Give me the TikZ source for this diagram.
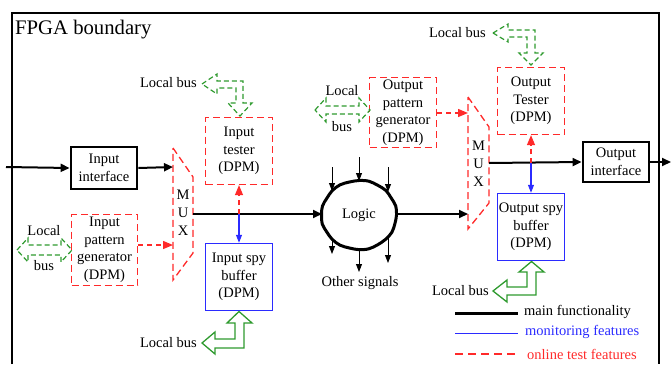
\documentclass[tikz,border=0pt]{standalone}
\usepackage{fontspec}
\setmainfont{Liberation Serif}
\usetikzlibrary{arrows.meta,shapes.geometric}
\definecolor{tred}{HTML}{FF2A2A}
\definecolor{tgreen}{HTML}{2E9A2E}
\definecolor{tblue}{HTML}{2B2BFF}
\begin{document}
\begin{tikzpicture}[x=1pt,y=-1pt,
  every node/.style={font=\fontsize{14.5}{17.5}\selectfont, inner sep=0pt, align=center},
  mainbox/.style={draw, line width=2.8pt, minimum width=66pt},
  testbox/.style={draw=tred, dash pattern=on 7pt off 4pt, line width=1.3pt, minimum width=67pt, minimum height=67pt},
  spybox/.style={draw=tblue, line width=1.4pt, minimum width=67pt, minimum height=67pt},
  muxshape/.style={draw=tred, dash pattern=on 7pt off 4pt, line width=1.3pt},
  mainline/.style={line width=2pt, -{Triangle[length=9pt,width=8pt]}},
  sigline/.style={line width=0.9pt, -{Triangle[length=8pt,width=6pt]}},
  testline/.style={tred, dash pattern=on 5pt off 4pt, line width=1.3pt, -{Triangle[length=10pt,width=8pt]}},
  spyline/.style={tblue, line width=1.1pt, -{Triangle[length=8pt,width=6pt]}},
  busdash/.style={draw=tgreen, dash pattern=on 5pt off 3pt, line width=1.2pt},
  bussolid/.style={draw=tgreen, line width=1.3pt}
]
\useasboundingbox (0,0) rectangle (671,364);

% FPGA boundary (open at the bottom)
\draw[line width=1.2pt] (12,364) -- (12,13) -- (659,13) -- (659,364);
\node[anchor=west, font=\fontsize{20.7}{24}\selectfont] (title) at (15,30) {FPGA boundary};

% Input side boxes
\node[mainbox, minimum height=42pt] (inif) at (104,168) {Input\\interface};
\node[testbox, minimum width=66pt, minimum height=71pt] (ipg) at (104.5,250) {Input\\pattern\\generator\\(DPM)};
\node[testbox] (itest) at (239,151) {Input\\tester\\(DPM)};
\node[spybox] (ispy) at (239,277) {Input spy\\buffer\\(DPM)};

% Output side boxes
\node[testbox, minimum height=70pt] (opg) at (403,112.5) {Output\\pattern\\generator\\(DPM)};
\node[testbox] (otest) at (531,101) {Output\\Tester\\(DPM)};
\node[spybox] (ospy) at (531,227) {Output spy\\buffer\\(DPM)};
\node[mainbox, minimum height=40pt] (outif) at (616,162) {Output\\interface};

% Multiplexers
\draw[muxshape] (173,148) -- (193,177) -- (193,253) -- (173,280) -- cycle;
\node[font=\fontsize{14.5}{18}\selectfont] (muxa) at (183,213) {M\\U\\X};
\draw[muxshape] (468,97) -- (489,127) -- (489,203) -- (468,229) -- cycle;
\node[font=\fontsize{14.5}{18}\selectfont] (muxb) at (478.5,164) {M\\U\\X};

\coordinate (muxaIn1) at (173,167);
\coordinate (muxaIn2) at (173,245);
\coordinate (muxaOut) at (193,214);
\coordinate (muxbIn1) at (468,113);
\coordinate (muxbIn2) at (468,214);
\coordinate (muxbOut) at (489,163);
\coordinate (ja) at (239,214);
\coordinate (jb) at (531,163);
\coordinate (pinIn) at (6,167);
\coordinate (pinOut) at (671,162);
\coordinate (logicW) at (322,214);
\coordinate (logicE) at (397,214);

% Logic cloud with a slightly irregular outline
\node (logic) at (359,215) {Logic};
\draw[line width=3pt, line join=round] plot[smooth cycle, tension=0.55] coordinates {
  (396.5,215) (395.75,205.95) (391.15,197.9) (385.75,190.35) (377.7,185.25) (368.85,181.2)
  (359,180.5) (349.4,182) (340.1,184.8) (332.35,190.5) (327,198) (322.45,206)
  (321.5,215) (322.25,224.05) (326.85,232.1) (332.35,239.5) (340.1,245.2) (349.4,248)
  (359,249.65) (368.85,248.8) (377.7,244.75) (385.5,239.4) (391.8,232.4) (394.85,223.85)};
\node (other) at (360,283) {Other signals};

% Signals entering and leaving the logic
\coordinate (la1) at (332,167); \coordinate (la1e) at (332,191);
\coordinate (la2) at (359,157); \coordinate (la2e) at (359,181);
\coordinate (la3) at (388,167); \coordinate (la3e) at (388,192);
\coordinate (lb1) at (332,240); \coordinate (lb1e) at (332,254);
\coordinate (lb2) at (359,250); \coordinate (lb2e) at (359,272);
\coordinate (lb3) at (388,238); \coordinate (lb3e) at (388,263);
\foreach \a in {la1,la2,la3,lb1,lb2,lb3}
  \draw[sigline] (\a) -- (\a e);

% Main data path
\draw[mainline] (pinIn) -- (inif.west);
\draw[mainline] (inif.east) -- (muxaIn1);
\draw[mainline] (muxaOut) -- (logicW);
\draw[mainline] (logicE) -- (muxbIn2);
\draw[mainline] (muxbOut) -- (outif.west);
\draw[mainline] (outif.east) -- (pinOut);

% Test pattern injection
\draw[testline] (ipg.east |- muxaIn2) -- (muxaIn2);
\draw[testline] (opg.east |- muxbIn1) -- (muxbIn1);

% Tester and spy taps
\draw[testline] (ja) -- (itest.south);
\draw[spyline] (ja) -- (ispy.north);
\draw[testline] (jb) -- (otest.south);
\draw[spyline] (jb) -- (ospy.north);

% Local bus arrows
\draw[busdash] (17,250) -- (28,238) -- (28,245) -- (61,245) -- (61,238) -- (72,250)
  -- (61,262) -- (61,255) -- (28,255) -- (28,262) -- cycle;
\node (lbA1) at (44,231) {Local};
\node (lbA2) at (44,266) {bus};

\draw[busdash] (315,110) -- (326,98) -- (326,106) -- (359,106) -- (359,98) -- (370,110)
  -- (359,122) -- (359,114) -- (326,114) -- (326,122) -- cycle;
\node (lbB1) at (342,91) {Local};
\node (lbB2) at (342,127) {bus};

\draw[busdash] (202,84) -- (217,74) -- (217,81) -- (243,81) -- (243,103) -- (252,103)
  -- (240,116) -- (228,103) -- (236,103) -- (236,88) -- (217,88) -- (217,94) -- cycle;
\node[anchor=east] (lbC) at (197,83) {Local bus};

\draw[busdash] (493,33) -- (508,24) -- (508,30) -- (535,30) -- (535,53) -- (543,53)
  -- (531,65) -- (519,53) -- (527,53) -- (527,37) -- (508,37) -- (508,42) -- cycle;
\node[anchor=east] (lbD) at (486,33) {Local bus};

\draw[bussolid] (239,311.5) -- (252,323) -- (244,323) -- (244,348) -- (215,348) -- (215,354)
  -- (202,343) -- (215,332) -- (215,339) -- (235,339) -- (235,323) -- (227,323) -- cycle;
\node[anchor=east] (lbE) at (197,343) {Local bus};

\draw[bussolid] (531.5,261.5) -- (544,272) -- (536,272) -- (536,295) -- (507,295) -- (507,302)
  -- (493,291) -- (507,280) -- (507,287) -- (527,287) -- (527,272) -- (519,272) -- cycle;
\node[anchor=east] (lbF) at (489,291) {Local bus};

% Legend
\draw[line width=3pt] (455,313) -- (518,313);
\node[anchor=west] (legA) at (524,312) {main functionality};
\draw[tblue, line width=1pt] (455,333) -- (518,333);
\node[anchor=west, text=tblue] (legB) at (525,332) {monitoring features};
\draw[tred, line width=1.3pt, dash pattern=on 8pt off 5pt] (455,354) -- (518,354);
\node[anchor=west, text=tred] (legC) at (527,354) {online test features};
\end{tikzpicture}
\end{document}
